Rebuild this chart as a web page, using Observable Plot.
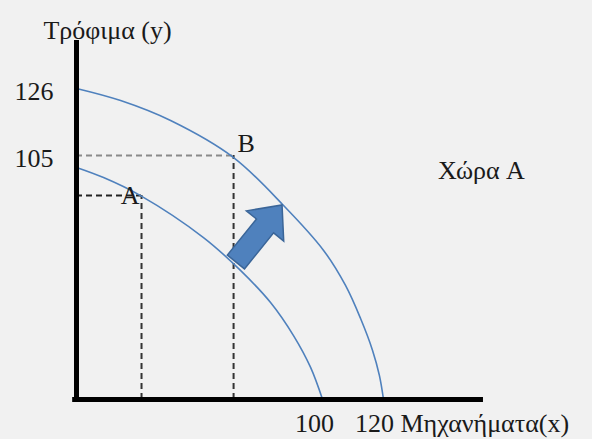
<!DOCTYPE html>
<html>
<head>
<meta charset="utf-8">
<script src="https://cdn.jsdelivr.net/npm/d3@7"></script>
<script src="https://cdn.jsdelivr.net/npm/@observablehq/plot@0.6"></script>
<style>
  html, body { margin: 0; padding: 0; background: #f1f1f1; }
  #chart { width: 592px; height: 439px; }
</style>
</head>
<body>
<div id="chart"></div>
<script>
// Outer production possibility frontier (after growth)
const outerX = [0, 17.3, 36.9, 61.6, 81.2, 96.9, 105.5, 111.4, 116.1, 118.8, 120.4];
const outerY = [126, 121.1, 113.0, 98.0, 78.6, 60.4, 46.2, 32.8, 19.9, 9.7, 0];
// Inner production possibility frontier
const innerX = [0, 10.6, 25.1, 49.8, 64.3, 76.1, 85.1, 91.8, 96.5];
const innerY = [94.0, 89.9, 82.6, 65.6, 52.3, 39.3, 25.9, 13.0, 0];
// Points
const pointNames = ["A", "B"];
const pointX = [25.5, 61.6];
const pointY = [82.6, 98.9];
// Tick labels
const yTickLabels = ["126", "105"];
const yTickValues = [126, 98.9];
const xTickLabels = ["100", "120"];
const xTickValues = [96.5, 120];
// Arrow (tail -> tip)
const arrowFrom = [62.7, 55.5];
const arrowTo = [80.8, 78.6];
// Texts
const yTitle = "Τρόφιμα (y)";
const xTitle = "Μηχανήματα(x)";
const countryLabel = "Χώρα A";

const outer = outerX.map((x, i) => ({x, y: outerY[i]}));
const inner = innerX.map((x, i) => ({x, y: innerY[i]}));
const points = pointNames.map((name, i) => ({name, x: pointX[i], y: pointY[i]}));
const yTicks = yTickLabels.map((label, i) => ({label, y: yTickValues[i]}));
const xTicks = xTickLabels.map((label, i) => ({label, x: xTickValues[i]}));

const font = "'Liberation Serif', 'DejaVu Serif', serif";
const blue = "#4f81bd";
const ink = "#1a1a1a";
const fs = 26;

function arrowMark(index, scales) {
  const x0 = scales.x(arrowFrom[0]), y0 = scales.y(arrowFrom[1]);
  const x1 = scales.x(arrowTo[0]), y1 = scales.y(arrowTo[1]);
  const dx = x1 - x0, dy = y1 - y0, L = Math.hypot(dx, dy);
  const ux = dx / L, uy = dy / L, px = -uy, py = ux;
  const sw = 11, hw = 24, hl = 27;
  const bx = x1 - ux * hl, by = y1 - uy * hl;
  const pts = [
    [x0 + px * sw, y0 + py * sw],
    [bx + px * sw, by + py * sw],
    [bx + px * hw, by + py * hw],
    [x1, y1],
    [bx - px * hw, by - py * hw],
    [bx - px * sw, by - py * sw],
    [x0 - px * sw, y0 - py * sw]
  ];
  const svgNS = "http://www.w3.org/2000/svg";
  const poly = document.createElementNS(svgNS, "polygon");
  poly.setAttribute("points", pts.map(p => p.join(",")).join(" "));
  poly.setAttribute("fill", blue);
  poly.setAttribute("stroke", "#3a6598");
  poly.setAttribute("stroke-width", "1.5");
  poly.setAttribute("stroke-linejoin", "miter");
  return poly;
}

const chart = Plot.plot({
  width: 592,
  height: 439,
  marginTop: 0, marginRight: 0, marginBottom: 0, marginLeft: 0,
  style: { background: "#f1f1f1", fontFamily: font },
  x: { domain: [0, 120], range: [76, 382], axis: null },
  y: { domain: [0, 126], range: [399, 88], axis: null },
  marks: [
    // dashed guides for A and B
    Plot.ruleY(points, { y: "y", x1: 0, x2: "x", stroke: (d) => d.name === "B" ? "#8a8a8a" : "#222", strokeWidth: 2, strokeDasharray: "6,4" }),
    Plot.ruleX(points, { x: "x", y1: 0, y2: "y", stroke: "#333", strokeWidth: 2, strokeDasharray: "6,4" }),
    // curves
    Plot.line(outer, { x: "x", y: "y", curve: "catmull-rom", stroke: blue, strokeWidth: 1.6 }),
    Plot.line(inner, { x: "x", y: "y", curve: "catmull-rom", stroke: blue, strokeWidth: 1.6 }),
    // axes
    Plot.ruleX([0], { y1: 0, y2: 145.4, stroke: "black", strokeWidth: 5 }),
    Plot.ruleY([0], { x1: -1.5, x2: 159.6, stroke: "black", strokeWidth: 5 }),
    // arrow
    arrowMark,
    // point labels
    Plot.text(points.filter(d => d.name === "A"), { x: "x", y: "y", text: "name", textAnchor: "end", dx: -2, dy: 0, fontSize: fs, fill: ink }),
    Plot.text(points.filter(d => d.name === "B"), { x: "x", y: "y", text: "name", textAnchor: "start", dx: 4, dy: -12, fontSize: fs, fill: ink }),
    // tick labels
    Plot.text(yTicks, { x: 0, y: "y", text: "label", textAnchor: "end", dx: -23, dy: 3, fontSize: fs, fill: ink }),
    Plot.text(xTicks, { x: "x", y: 0, text: "label", textAnchor: "middle", dx: -8, dy: 24, fontSize: fs, fill: ink }),
    // titles
    Plot.text([yTitle], { x: 0, y: 145.4, text: (d) => d, textAnchor: "middle", dx: 31, dy: -10, fontSize: fs, fill: ink }),
    Plot.text([xTitle], { x: 120, y: 0, text: (d) => d, textAnchor: "start", dx: 18, dy: 24, fontSize: fs, fill: ink }),
    Plot.text([countryLabel], { x: 158.8, y: 92.8, text: (d) => d, textAnchor: "middle", fontSize: fs, fill: ink })
  ]
});
document.getElementById("chart").appendChild(chart);
</script>
</body>
</html>
